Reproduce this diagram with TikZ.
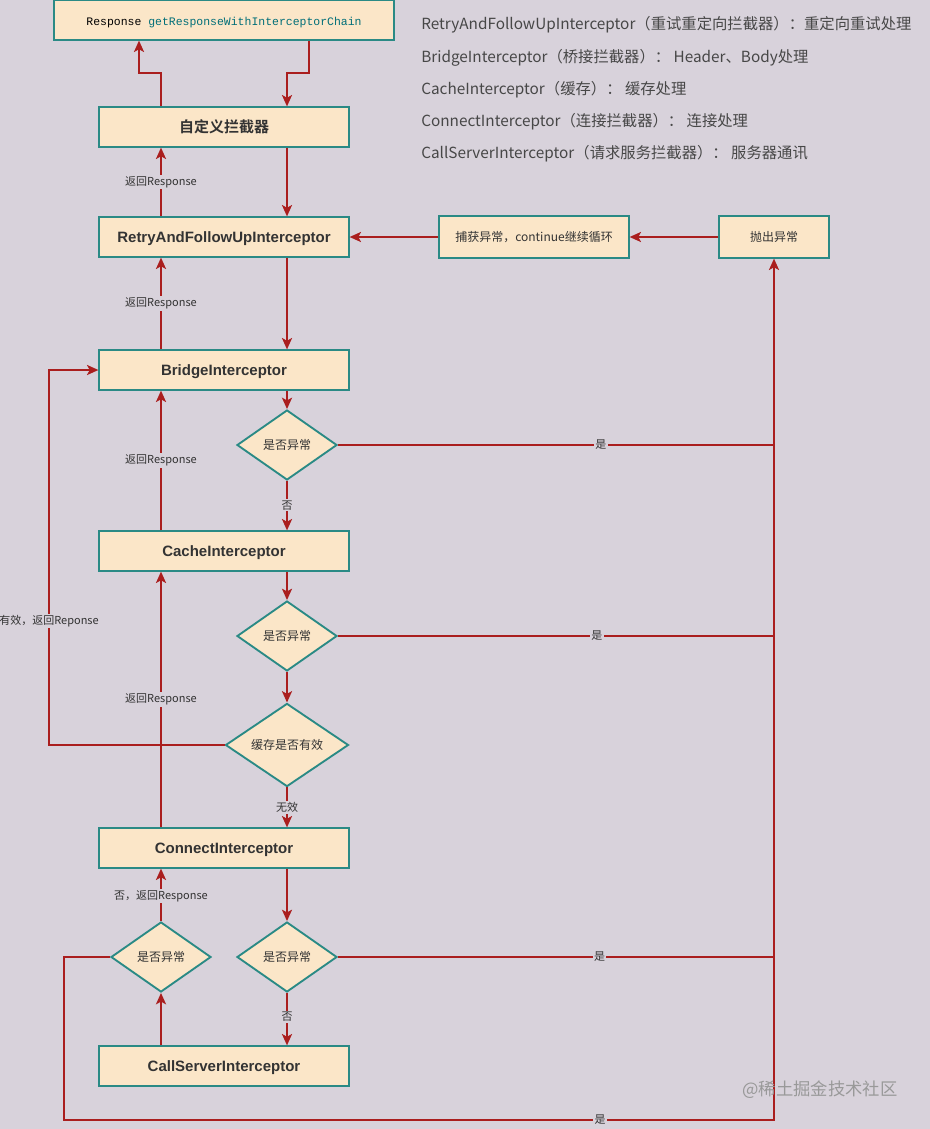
\documentclass[tikz,border=0pt]{standalone}
\usepackage{fontspec}
\setmainfont{Liberation Sans}
\newfontfamily\cjk{Noto Sans CJK SC}
\newfontfamily\cjkb{Noto Sans CJK SC Bold}
\setmonofont{Liberation Mono}
\usetikzlibrary{shapes.geometric,arrows.meta,calc}
\definecolor{bg}{RGB}{216,210,219}
\definecolor{peach}{RGB}{251,230,200}
\definecolor{tealb}{RGB}{42,138,133}
\definecolor{redl}{RGB}{170,30,30}
\definecolor{txt}{RGB}{51,51,51}
\definecolor{codeteal}{RGB}{0,110,120}
\begin{document}
\begin{tikzpicture}[x=0.75pt,y=-0.75pt,
  box/.style={draw=tealb,fill=peach,line width=0.9pt,minimum width=187.5pt,minimum height=30pt,inner sep=0pt,text=txt,text height=8.2pt,text depth=0pt,font=\fontsize{11.25pt}{13pt}\bfseries},
  sbox/.style={draw=tealb,fill=peach,line width=0.9pt,minimum height=31.5pt,inner sep=0pt,text=txt,font=\cjk\fontsize{9pt}{11pt}\selectfont},
  dia/.style={diamond,draw=tealb,fill=peach,line width=1.4pt,minimum width=75pt,minimum height=52.5pt,inner sep=0pt,text=txt,font=\cjk\fontsize{9pt}{11pt}\selectfont},
  arr/.style={draw=redl,line width=1.8pt,-{Stealth[length=8.5pt,width=7.5pt,inset=2pt]}},
  ln/.style={draw=redl,line width=1.8pt},
  lab/.style={fill=bg,inner sep=1pt,text=txt,font=\cjk\fontsize{8.25pt}{10pt}\selectfont},
  legend/.style={anchor=west,inner sep=0pt,text=txt!90,font=\cjk\fontsize{11.5pt}{13pt}\selectfont}
]
\useasboundingbox (0,0) rectangle (930,1129);
\fill[bg] (0,0) rectangle (930,1129);

% helper coordinates
\coordinate (L) at (161,0);
\coordinate (R) at (287,0);
\coordinate (TL) at (139,73);
\coordinate (TR) at (309,73);
\coordinate (LL) at (49,0);
\coordinate (BL) at (64,1120);
\coordinate (V) at (774,1120);

% nodes
\node[box,minimum width=255pt,text=black,font=\ttfamily\fontsize{8.6pt}{10pt}\selectfont] (top) at (224,20) {Response \textcolor{codeteal}{getResponseWithInterceptorChain}};
\node[box,font=\cjkb\fontsize{11.25pt}{13pt}\selectfont] (zdy) at (224,127) {自定义拦截器};
\node[box] (retry) at (224,237) {RetryAndFollowUpInterceptor};
\node[box] (bridge) at (224,370) {BridgeInterceptor};
\node[dia] (d1) at (287,445) {是否异常};
\node[box] (cache) at (224,551) {CacheInterceptor};
\node[dia] (d2) at (287,636) {是否异常};
\node[dia,minimum width=92.25pt] (d3) at (287,745) {缓存是否有效};
\node[box] (connect) at (224,848) {ConnectInterceptor};
\node[dia] (d4l) at (161,957) {是否异常};
\node[dia] (d4r) at (287,957) {是否异常};
\node[box] (call) at (224,1066) {CallServerInterceptor};
\node[sbox,minimum width=142.5pt] (catch) at (534,237) {捕获异常，continue继续循环};
\node[sbox,minimum width=82.5pt] (throw) at (774,237) {抛出异常};

% legend
\node[legend] (lg1) at (421,25) {RetryAndFollowUpInterceptor（重试重定向拦截器）：重定向重试处理};
\node[legend] (lg2) at (421,58) {BridgeInterceptor（桥接拦截器）： Header、Body处理};
\node[legend] (lg3) at (421,90) {CacheInterceptor（缓存）： 缓存处理};
\node[legend] (lg4) at (421,122) {ConnectInterceptor（连接拦截器）： 连接处理};
\node[legend] (lg5) at (421,154) {CallServerInterceptor（请求服务拦截器）： 服务器通讯};

% top connectors
\draw[arr] (zdy.north -| L) -- (L |- TL) -- (TL) -- (top.south -| TL);
\draw[arr] (top.south -| TR) -- (TR) -- (TR -| R) -- (zdy.north -| R);

% downward chain
\draw[arr] (zdy.south -| R) -- (retry.north -| R);
\draw[arr] (retry.south -| R) -- (bridge.north -| R);
\draw[arr] (bridge.south -| R) -- (d1.north);
\draw[arr] (d1.south) -- node[lab,pos=0.49]{否} (cache.north -| R);
\draw[arr] (cache.south -| R) -- (d2.north);
\draw[arr] (d2.south) -- (d3.north);
\draw[arr] (d3.south) -- node[lab,pos=0.5]{无效} (connect.north -| R);
\draw[arr] (connect.south -| R) -- (d4r.north);
\draw[arr] (d4r.south) -- node[lab,pos=0.46]{否} (call.north -| R);

% upward returns
\draw[arr] (retry.north -| L) -- node[lab,pos=0.5]{返回Response} (zdy.south -| L);
\draw[arr] (bridge.north -| L) -- node[lab,pos=0.5]{返回Response} (retry.south -| L);
\draw[arr] (cache.north -| L) -- node[lab,pos=0.5]{返回Response} (bridge.south -| L);
\draw[arr] (connect.north -| L) -- node[lab,pos=0.5]{返回Response} (cache.south -| L);
\draw[arr] (d4l.north) -- node[lab,pos=0.48]{否，返回Response} (connect.south -| L);
\draw[arr] (call.north -| L) -- (d4l.south);

% cache valid loop
\draw[arr] (d3.west) -- (LL |- d3.west) -- node[lab,pos=0.33]{有效，返回Reponse} (LL |- bridge.west) -- (bridge.west);

% exception lines
\draw[ln] (d1.east) -- node[lab,pos=0.603]{是} (d1.east -| V);
\draw[ln] (d2.east) -- node[lab,pos=0.594]{是} (d2.east -| V);
\draw[ln] (d4r.east) -- node[lab,pos=0.6]{是} (d4r.east -| V);
\draw[arr] (d4l.west) -- (BL |- d4l.west) -- (BL) -- node[lab,pos=0.755]{是} (V) -- (throw.south);

\draw[arr] (throw.west) -- (catch.east);
\draw[arr] (catch.west) -- (retry.east);

% watermark
\node[text=black!40,font=\cjk\fontsize{13pt}{15pt}\selectfont,inner sep=0pt] (wm) at (820,1090) {@稀土掘金技术社区};
\end{tikzpicture}
\end{document}
